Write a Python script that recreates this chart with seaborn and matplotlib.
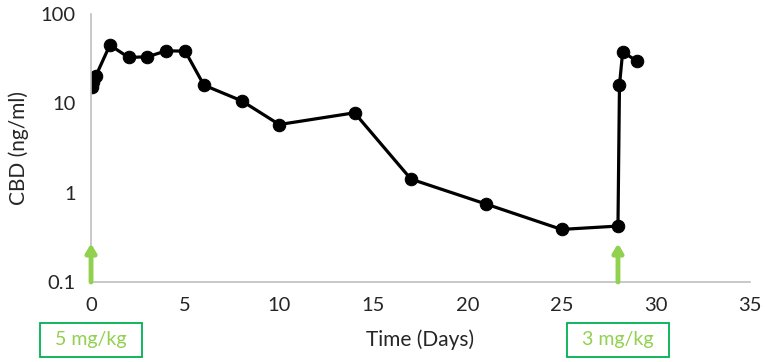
import pandas as pd
import seaborn as sns
import matplotlib.pyplot as plt
import matplotlib.transforms as mtransforms
from matplotlib.patches import Rectangle
from matplotlib.ticker import FixedLocator, FixedFormatter, NullLocator

# CBD plasma levels
days = [0.04, 0.125, 0.25, 1, 2, 3, 4, 5, 6, 8, 10, 14, 17, 21, 25, 28, 28.08, 28.25, 29]
cbd = [15.1, 17.5, 20.2, 45, 32.7, 33.3, 38.8, 38.5, 16.0, 10.7, 5.8, 7.85, 1.42, 0.745, 0.388, 0.423, 16.0, 37.8, 29.8]

dose_days = [0, 28]
dose_labels = ["5 mg/kg", "3 mg/kg"]

y_ticks = [0.1, 1, 10, 100]
y_tick_labels = ["0.1", "1", "10", "100"]
x_ticks = [0, 5, 10, 15, 20, 25, 30, 35]

df = pd.DataFrame({"Time (Days)": days, "CBD (ng/ml)": cbd})

sns.set_style("white")
plt.rcParams["font.family"] = ["Lato", "DejaVu Sans"]

fig = plt.figure(figsize=(7.65, 3.62), dpi=100)
ax = fig.add_axes([0.119, 0.221, 0.861, 0.740])

sns.lineplot(data=df, x="Time (Days)", y="CBD (ng/ml)", ax=ax, sort=False,
             color="black", linewidth=2.3, marker="o", markersize=9,
             markeredgecolor="black")

ax.set_yscale("log")
ax.set_ylim(0.1, 100)
ax.set_xlim(0, 35)
ax.yaxis.set_major_locator(FixedLocator(y_ticks))
ax.yaxis.set_major_formatter(FixedFormatter(y_tick_labels))
ax.yaxis.set_minor_locator(NullLocator())
ax.set_xticks(x_ticks)
ax.tick_params(axis="both", length=0, labelsize=14.5, pad=11)

for s in ["top", "right"]:
    ax.spines[s].set_visible(False)
for s in ["left", "bottom"]:
    ax.spines[s].set_color("#bfbfbf")
    ax.spines[s].set_linewidth(1.2)

ax.set_xlabel("Time (Days)", fontsize=15, va="center")
ax.xaxis.set_label_coords(0.5, -0.216)
ax.set_ylabel("CBD (ng/ml)", fontsize=15, va="center")
ax.yaxis.set_label_coords(-0.11, 0.5)

# dosing arrows and boxes
trans = mtransforms.blended_transform_factory(ax.transData, ax.transAxes)
for d, lab in zip(dose_days, dose_labels):
    ax.annotate("", xy=(d, 0.27), xytext=(d, 0.1),
                arrowprops=dict(arrowstyle="-|>,head_width=0.3,head_length=0.5",
                                color="#92d050", lw=3.5, shrinkA=0, shrinkB=0),
                annotation_clip=False)
    ax.add_patch(Rectangle((d - 2.71, -0.28), 5.42, 0.127, transform=trans,
                           fc="white", ec="#00b050", lw=1.3, clip_on=False))
    ax.text(d, -0.2165, lab, transform=trans, ha="center", va="center",
            fontsize=14, color="#92d050", clip_on=False)

fig.savefig("out.png", dpi=100)
